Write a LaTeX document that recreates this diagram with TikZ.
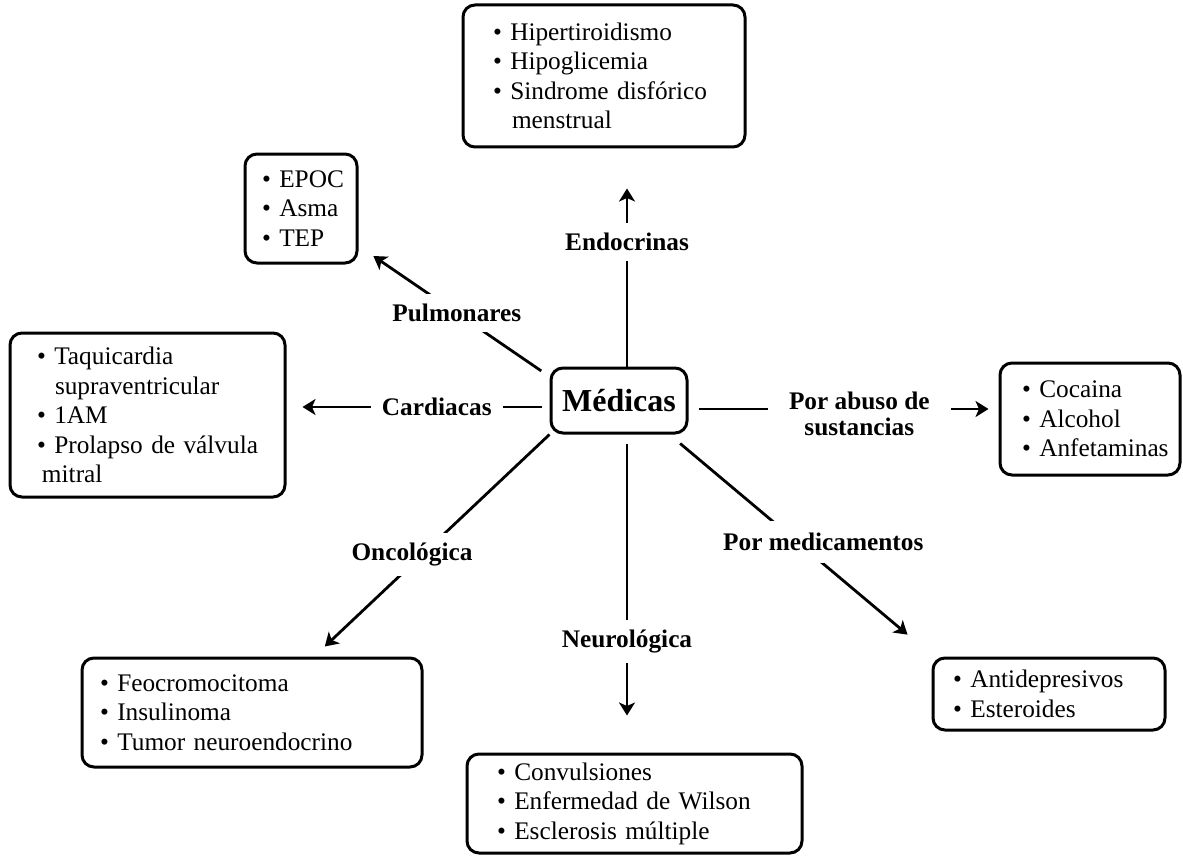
\documentclass[tikz,border=0pt]{standalone}
\usepackage{fontspec}
\setmainfont{Liberation Serif}
\usetikzlibrary{arrows.meta}
\newcommand{\itm}[1]{\mbox{\textbullet\ #1}}
\newcommand{\cont}[2][19pt]{\mbox{\hspace*{#1}#2}}
\tikzset{
  listbox/.style={draw, line width=3pt, rounded corners=12pt, align=left,
    font=\fontsize{25.3}{29.5}\selectfont},
  hub/.style={draw, line width=3pt, rounded corners=12pt, minimum width=136pt,
    minimum height=65pt, font=\fontsize{32}{34}\selectfont\bfseries},
  lbl/.style={fill=white, align=center, inner xsep=11pt, inner ysep=10pt,
    font=\fontsize{25.3}{25.5}\selectfont\bfseries},
  ray/.style={line width=2.8pt, -{Stealth[length=13pt,width=16pt,inset=3.5pt]}}
}

\begin{document}
\begin{tikzpicture}[x=1pt,y=-1pt]
    \useasboundingbox (0,0) rectangle (1183,856);
    % lists
    \node[listbox, inner xsep=30pt, text width=222pt, minimum height=142pt] (endobox) at (604,76)
      {\itm{Hipertiroidismo}\\ \itm{Hipoglicemia}\\ \itm{Sindrome disfórico}\\ \cont{menstrual}};
    \node[listbox, inner xsep=17pt, text width=78pt, minimum height=109pt] (pulmbox) at (301,208.5)
      {\itm{EPOC}\\ \itm{Asma}\\ \itm{TEP}};
    \node[listbox, inner xsep=27pt, text width=221pt, minimum height=164pt] (cardbox) at (147.5,415)
      {\itm{Taquicardia}\\ \cont[18pt]{supraventricular}\\ \itm{1AM}\\ \itm{Prolapso de válvula}\\ \cont[5pt]{mitral}};
    \node[listbox, inner xsep=22pt, text width=136pt, minimum height=112pt] (abusebox) at (1090,419)
      {\itm{Cocaina}\\ \itm{Alcohol}\\ \itm{Anfetaminas}};
    \node[listbox, inner xsep=20pt, text width=192pt, minimum height=72pt] (medibox) at (1049,694)
      {\itm{Antidepresivos}\\ \itm{Esteroides}};
    \node[listbox, inner xsep=18pt, text width=304pt, minimum height=109pt] (oncobox) at (252,712.5)
      {\itm{Feocromocitoma}\\ \itm{Insulinoma}\\ \itm{Tumor neuroendocrino}};
    \node[listbox, inner xsep=30pt, text width=275pt, minimum height=99pt] (neurobox) at (634.5,803.5)
      {\itm{Convulsiones}\\ \itm{Enfermedad de Wilson}\\ \itm{Esclerosis múltiple}};
    % centre
    \node[hub] (med) at (619,400.5) {Médicas};
    \coordinate (mn) at ([xshift=8pt]med.north);
    \coordinate (ms) at ([xshift=8pt]med.south);
    \coordinate (me) at ([yshift=-8.5pt]med.east);
    \coordinate (mw) at ([yshift=-6.5pt]med.west);
    % rays
    \draw[ray, shorten >=40pt] (mn) -- node[lbl, pos=0.57] (endo) {Endocrinas} (mn |- endobox.south);
    \draw[ray, shorten <=10pt, shorten >=18pt] (med.161) -- node[lbl, pos=0.485] (pulm) {Pulmonares} (pulmbox.-33);
    \draw[ray, shorten <=8pt, shorten >=16pt] (mw) -- node[lbl, pos=0.4286] (card) {Cardiacas} (mw -| cardbox.east);
    \draw[ray, shorten <=10pt, shorten >=10pt] (me) -- node[lbl, pos=0.551, inner xsep=21pt, yshift=-5pt] (abuse) {Por abuso de\\sustancias} (me -| abusebox.west);
    \draw[ray, shorten <=14pt, shorten >=34pt] (med.-34) -- node[lbl, pos=0.484, xshift=26pt, inner ysep=12pt] (medi) {Por medicamentos} (medibox.162);
    \draw[ray, shorten >=14.6pt] (med.south west) -- node[lbl, pos=0.542, xshift=-10pt] (onco) {Oncológica} (oncobox.42);
    \draw[ray, shorten <=9pt, shorten >=37pt] (ms) -- node[lbl, pos=0.651] (neuro) {Neurológica} (ms |- neurobox.north);
\end{tikzpicture}
\end{document}
